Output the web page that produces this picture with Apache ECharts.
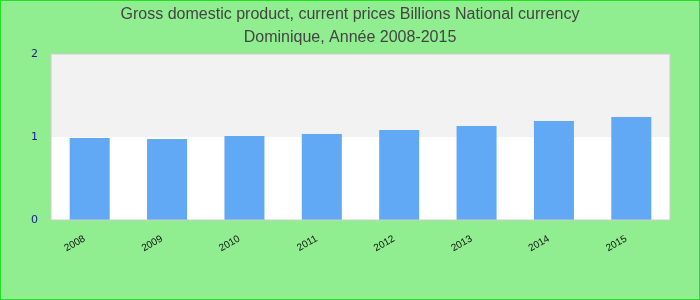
<!DOCTYPE html>
<html><head><meta charset="utf-8">
<script src="https://cdn.jsdelivr.net/npm/echarts@6/dist/echarts.min.js"></script>
<style>html,body{margin:0;padding:0;background:#90ee90;}#c{width:698px;height:298px;border:1px solid #22e022;}</style>
</head><body><div id="c"></div>
<script>
const categories = ['2008','2009','2010','2011','2012','2013','2014','2015'];
const values = [0.988, 0.976, 1.012, 1.036, 1.084, 1.133, 1.193, 1.241];
const yTicks = [0, 1, 2];
const titleText = 'Gross domestic product, current prices Billions National currency\nDominique, Année 2008-2015';

const chart = echarts.init(document.getElementById('c'), null, {renderer:'canvas'});
chart.setOption({
  backgroundColor: '#90ee90',
  animation: false,
  title: {
    text: titleText, left: 'center', top: -3,
    textStyle: {fontFamily: 'Liberation Sans, Arial', fontSize: 16, fontWeight: 'normal', color: '#444', lineHeight: 23}
  },
  grid: {left: 50, right: 29, top: 53, bottom: 79, show: true, borderColor: '#cccccc', borderWidth: 1, z: 5},
  xAxis: {
    type: 'category', data: categories,
    axisLine: {show: false}, axisTick: {show: false},
    axisLabel: {rotate: 30, margin: 15, padding: [0, 6, 0, 0], fontSize: 10, color: '#111', fontFamily: 'Liberation Sans, Arial'}
  },
  yAxis: {
    type: 'value', min: yTicks[0], max: yTicks[yTicks.length-1], interval: 1,
    axisLine: {show: false}, axisTick: {show: false},
    splitLine: {show: false},
    splitArea: {show: true, areaStyle: {color: ['#ffffff', '#f2f2f2']}},
    axisLabel: {margin: 13, fontSize: 11, color: '#1a1a8c', fontFamily: 'DejaVu Sans'}
  },
  series: [{
    type: 'bar', data: values, barWidth: 40,
    itemStyle: {color: '#61a8f5'}
  }]
});
</script></body></html>
